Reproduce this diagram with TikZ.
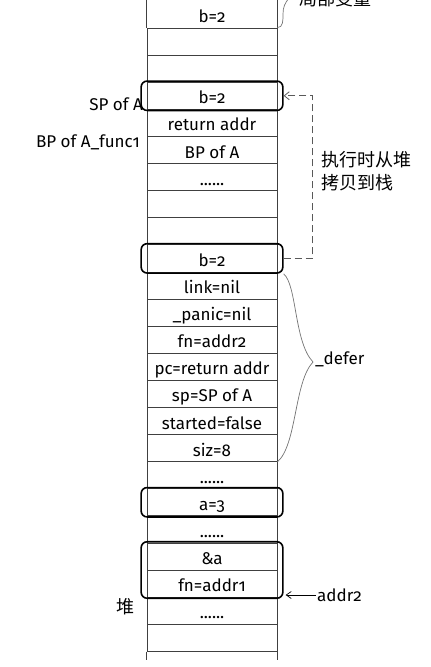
\documentclass[tikz,border=0pt]{standalone}
\usepackage{fontspec}
\setmainfont[Numbers=OldStyle]{Fira Sans}
\newfontfamily\cjk{Noto Sans CJK SC}
\usetikzlibrary{fit,arrows.meta}

\tikzset{
  cell/.style={draw=black!75, line width=0.7pt, minimum width=130pt,
    minimum height=27.1pt, inner sep=0pt, text height=21.6pt, text depth=5.5pt,
    font=\fontsize{17}{20}\selectfont},
  hl/.style={draw=black, line width=1.6pt, rounded corners=6pt,
    inner xsep=5.5pt, inner ysep=0.8pt},
  side/.style={inner sep=1pt, font=\fontsize{17}{20}\selectfont},
  cjktext/.style={inner sep=1pt, font=\cjk\fontsize{18}{23}\selectfont},
}

\begin{document}
\begin{tikzpicture}[x=1pt,y=-1pt]
\useasboundingbox (0,0) rectangle (431,667);
\clip (0,0) rectangle (431,667);

% Stack cells
\node[cell, draw=none] (r0) at (212,14.45) {b=2};
\node[cell] (r1) at (212,41.55) {};
\node[cell] (r2) at (212,68.65) {};
\node[cell] (r3) at (212,95.75) {b=2};
\node[cell] (r4) at (212,122.85) {return addr};
\node[cell] (r5) at (212,149.95) {BP of A};
\node[cell] (r6) at (212,177.05) {......};
\node[cell] (r7) at (212,204.15) {};
\node[cell] (r8) at (212,231.25) {};
\node[cell] (r9) at (212,258.35) {b=2};
\node[cell] (r10) at (212,285.45) {link=nil};
\node[cell] (r11) at (212,312.55) {\_panic=nil};
\node[cell] (r12) at (212,339.65) {fn=addr2};
\node[cell] (r13) at (212,366.75) {pc=return addr};
\node[cell] (r14) at (212,393.85) {sp=SP of A};
\node[cell] (r15) at (212,420.95) {started=false};
\node[cell] (r16) at (212,448.05) {siz=8};
\node[cell] (r17) at (212,475.15) {......};
\node[cell] (r18) at (212,502.25) {a=3};
\node[cell] (r19) at (212,529.35) {......};
\node[cell] (r20) at (212,556.45) {\&a};
\node[cell] (r21) at (212,583.55) {fn=addr1};
\node[cell] (r22) at (212,610.65) {......};
\node[cell] (r23) at (212,637.75) {};

% open ends of the column
\draw[black!75, line width=0.7pt] (r1.north west) -- ++(0,-30) (r1.north east) -- ++(0,-30);
\draw[black!75, line width=0.7pt] (r23.south west) -- ++(0,8) (r23.south east) -- ++(0,8);

% Marked cells
\node[hl, fit=(r3)] (h3) {};
\node[hl, fit=(r9)] (h9) {};
\node[hl, fit=(r18)] (h18) {};
\node[hl, fit=(r20)(r21)] (h20) {};

% Labels on the left
\node[side, anchor=east] (spA) at (144,104) {SP of A};
\node[side, anchor=east] (bpA) at (141,142) {BP of A\_func1};
\node[cjktext] (heap) at (125,607) {堆};

% local variables (cut off at the top)
\coordinate (lv) at (289,-2);
\draw[black!55, line width=0.7pt] (r1.north east) .. controls +(6,0) and +(0,6) .. (283,14)
  .. controls (283,7) and (285,3) .. (lv);
\node[cjktext, anchor=west] (local) at (298,-1) {局部变量};

% copy from heap to stack
\draw[black!65, line width=0.8pt, dash pattern=on 7pt off 4pt,
  -{Straight Barb[length=5pt,width=8pt]}] (h9.east) -- ++(29,0) |- (h3.east);
\node[cjktext, anchor=west, align=left] (copy) at (320,171) {执行时从堆\\拷贝到栈};

% _defer brace
\coordinate (tip) at (313,362);
\draw[black!55, line width=0.7pt] (h9.south east) .. controls (297,285) and (294,342) .. (tip)
  .. controls (294,382) and (297,445) .. (r16.south east);
\node[side, anchor=west] (defer) at (314,359) {\_defer};

% addr2
\node[side, anchor=west] (addr2) at (316,595) {addr2};
\draw[line width=0.7pt, -{Straight Barb[length=5pt,width=7pt]}] (addr2.west) -- ([xshift=2pt]addr2.west -| h20.east);
\end{tikzpicture}
\end{document}
